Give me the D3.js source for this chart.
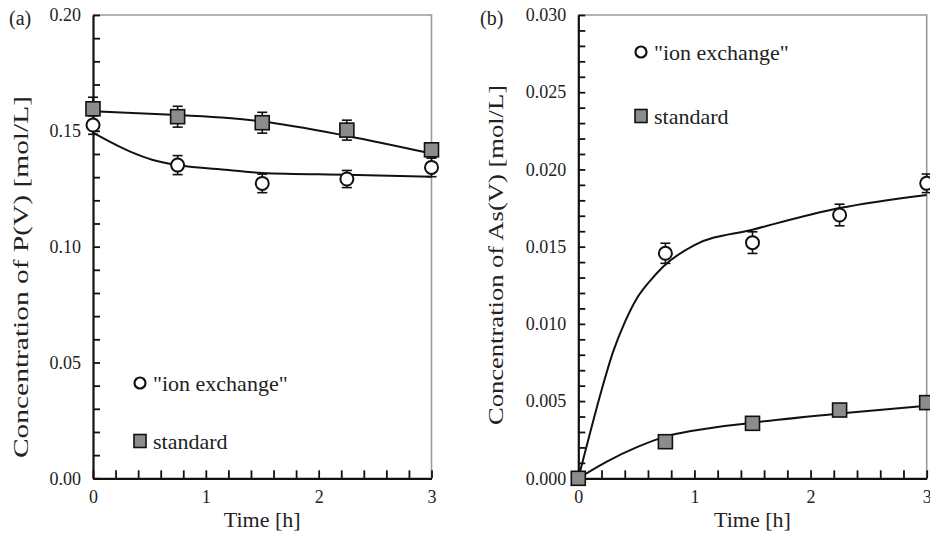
<!DOCTYPE html>
<html>
<head>
<meta charset="utf-8">
<script src="https://cdn.jsdelivr.net/npm/d3@7"></script>
<style>
  html, body { margin: 0; padding: 0; background: #fff; }
  svg { display: block; font-family: "Liberation Serif", "DejaVu Serif", serif; }
  svg text { font-family: "Liberation Serif", "DejaVu Serif", serif; }
</style>
</head>
<body>
<svg id="chart" width="930" height="535"></svg>
<script>
// Sampling times [h]
const times = [0, 0.75, 1.5, 2.25, 3];

// Panel (a): P(V) concentration [mol/L]
const pIon = [0.1525, 0.1352, 0.1273, 0.1292, 0.1342];
const pIonErr = [0.004, 0.0041, 0.004, 0.0037, 0.004];
const pStd = [0.1595, 0.1561, 0.1535, 0.1503, 0.1418];
const pStdErr = [0.005, 0.0045, 0.0045, 0.0043, 0.003];
// fitted model curves, panel (a)
const pIonFitT = [0, 0.33, 0.53, 0.75, 1.2, 1.5, 2.25, 3];
const pIonFit = [0.1492, 0.1410, 0.1374, 0.1352, 0.1331, 0.1318, 0.1310, 0.1302];
const pStdFitT = [0, 0.75, 1.2, 1.5, 2.25, 3];
const pStdFit = [0.1585, 0.1568, 0.1555, 0.1540, 0.1478, 0.1402];

// Panel (b): As(V) concentration [mol/L]
const asIon = [0, 0.01457, 0.01526, 0.01705, 0.0191];
const asIonErr = [0, 0.00065, 0.0007, 0.0007, 0.0006];
const asStd = [0, 0.00237, 0.00356, 0.00442, 0.0049];
const asStdErr = [0, 0.0002, 0.0002, 0.0002, 0.0002];
// fitted model curves, panel (b)
const asIonFitT = [0, 0.1, 0.2, 0.3, 0.4, 0.5, 0.62, 0.73, 1.0, 1.5, 2.25, 3];
const asIonFit = [0, 0.0029, 0.0057, 0.0082, 0.0101, 0.0116, 0.0128, 0.0137, 0.0151, 0.0161, 0.0175, 0.01835];
const asStdFitT = [0, 0.25, 0.5, 0.75, 1.0, 1.5, 2.25, 3];
const asStdFit = [0, 0.0011, 0.0020, 0.0027, 0.0031, 0.0036, 0.0042, 0.0047];

// Tick labels
const timeTickLabels = ["0", "1", "2", "3"];
const pTickLabels = ["0.00", "0.05", "0.10", "0.15", "0.20"];
const asTickLabels = ["0.000", "0.005", "0.010", "0.015", "0.020", "0.025", "0.030"];

// Legend entries
const legendNames = ['"ion exchange"', "standard"];

const svg = d3.select("#chart");
const markerGrey = "#8c8c8c";
const serif = "Liberation Serif, DejaVu Serif, serif";

function drawPanel(cfg) {
  const g = svg.append("g");
  const x = d3.scaleLinear().domain([0, 3]).range([cfg.x0, cfg.x1]);
  const y = d3.scaleLinear().domain([0, cfg.yMax]).range([cfg.yBot, cfg.yTop]);

  // frame: grey top and right edges
  g.append("path")
    .attr("d", `M${cfg.x0},${cfg.yTop}H${cfg.x1}V${cfg.yBot}`)
    .attr("fill", "none").attr("stroke", "#9a9a9a").attr("stroke-width", 1.6);

  // y axis with inward ticks
  const yMinor = d3.range(0, cfg.yMax + cfg.yStep / 2, cfg.yStep);
  const yAxis = d3.axisLeft(y)
    .tickValues(yMinor)
    .tickSize(-7).tickSizeOuter(0).tickPadding(12)
    .tickFormat((d, i) => (i % 5 === 0 ? cfg.yLabels[i / 5] : ""));
  const ya = g.append("g").attr("transform", `translate(${cfg.x0},0)`).call(yAxis);

  // x axis with inward ticks
  const xMinor = d3.range(0, 3.0001, 0.2);
  const xAxis = d3.axisBottom(x)
    .tickValues(xMinor)
    .tickSize(-8).tickSizeOuter(0).tickPadding(12)
    .tickFormat((d, i) => (i % 5 === 0 ? timeTickLabels[i / 5] : ""));
  const xa = g.append("g").attr("transform", `translate(0,${cfg.yBot})`).call(xAxis);

  [ya, xa].forEach(a => {
    a.attr("font-family", serif);
    a.select(".domain").attr("stroke", "#111").attr("stroke-width", 2.2);
    a.selectAll(".tick line").attr("stroke", "#111").attr("stroke-width", 1.8);
    a.selectAll(".tick text").attr("fill", "#222").style("font-size", "18px");
  });

  // axis titles
  g.append("text")
    .attr("x", (cfg.x0 + cfg.x1) / 2).attr("y", 527)
    .attr("text-anchor", "middle").attr("fill", "#222")
    .style("font-size", "22px").text("Time [h]");
  g.append("text")
    .attr("transform", `translate(${cfg.yTitleX},${cfg.yTitleY}) rotate(-90)`)
    .attr("text-anchor", "middle").attr("fill", "#222")
    .attr("textLength", cfg.yTitleLen).attr("lengthAdjust", "spacingAndGlyphs")
    .style("font-size", "22px").text(cfg.yTitle);

  // panel tag
  g.append("text").attr("x", cfg.tagX).attr("y", 25).attr("fill", "#222")
    .style("font-size", "20px").text(cfg.tag);

  // fitted curves
  const line = d3.line().x(d => x(d[0])).y(d => y(d[1])).curve(d3.curveMonotoneX);
  cfg.fits.forEach(f => {
    g.append("path").datum(d3.zip(f.t, f.v)).attr("d", line)
      .attr("fill", "none").attr("stroke", "#111").attr("stroke-width", 2);
  });

  // error bars
  function errorBars(vals, errs) {
    const eg = g.append("g").attr("stroke", "#111").attr("stroke-width", 1.6);
    times.forEach((t, i) => {
      if (!errs[i]) return;
      const cx = x(t), lo = y(vals[i] - errs[i]), hi = y(vals[i] + errs[i]);
      eg.append("line").attr("x1", cx).attr("x2", cx).attr("y1", lo).attr("y2", hi);
      eg.append("line").attr("x1", cx - 5).attr("x2", cx + 5).attr("y1", lo).attr("y2", lo);
      eg.append("line").attr("x1", cx - 5).attr("x2", cx + 5).attr("y1", hi).attr("y2", hi);
    });
  }
  errorBars(cfg.ion, cfg.ionErr);
  errorBars(cfg.std, cfg.stdErr);

  // markers
  g.append("g").selectAll("circle").data(d3.zip(times, cfg.ion)).join("circle")
    .attr("cx", d => x(d[0])).attr("cy", d => y(d[1])).attr("r", 6.5)
    .attr("fill", "#fff").attr("stroke", "#111").attr("stroke-width", 2);
  g.append("g").selectAll("rect").data(d3.zip(times, cfg.std)).join("rect")
    .attr("x", d => x(d[0]) - 7).attr("y", d => y(d[1]) - 7)
    .attr("width", 14).attr("height", 14)
    .attr("fill", markerGrey).attr("stroke", "#111").attr("stroke-width", 1.6);

  // legend
  const lg = g.append("g");
  lg.append("circle").attr("cx", cfg.legX).attr("cy", cfg.legY1).attr("r", 5.5)
    .attr("fill", "#fff").attr("stroke", "#111").attr("stroke-width", 2.2);
  lg.append("text").attr("x", cfg.legX + 13).attr("y", cfg.legY1 + 7.5)
    .attr("fill", "#222").style("font-size", "22px").text(legendNames[0]);
  lg.append("rect").attr("x", cfg.legX - 6).attr("y", cfg.legY2 - 6.5)
    .attr("width", 12).attr("height", 13)
    .attr("fill", markerGrey).attr("stroke", "#111").attr("stroke-width", 1.6);
  lg.append("text").attr("x", cfg.legX + 13).attr("y", cfg.legY2 + 7.5)
    .attr("fill", "#222").style("font-size", "22px").text(legendNames[1]);
}

drawPanel({
  tag: "(a)", tagX: 9,
  x0: 93, x1: 431.5, yTop: 15, yBot: 478.3,
  yMax: 0.20, yStep: 0.01, yLabels: pTickLabels,
  yTitle: "Concentration of P(V)  [mol/L]", yTitleX: 28, yTitleY: 277, yTitleLen: 362,
  ion: pIon, ionErr: pIonErr, std: pStd, stdErr: pStdErr,
  fits: [{ t: pIonFitT, v: pIonFit }, { t: pStdFitT, v: pStdFit }],
  legX: 140, legY1: 383, legY2: 441
});

drawPanel({
  tag: "(b)", tagX: 480,
  x0: 578.3, x1: 926.7, yTop: 15, yBot: 478.3,
  yMax: 0.030, yStep: 0.001, yLabels: asTickLabels,
  yTitle: "Concentration of As(V)  [mol/L]", yTitleX: 503, yTitleY: 255, yTitleLen: 340,
  ion: asIon, ionErr: asIonErr, std: asStd, stdErr: asStdErr,
  fits: [{ t: asIonFitT, v: asIonFit }, { t: asStdFitT, v: asStdFit }],
  legX: 641, legY1: 52, legY2: 116
});
</script>
</body>
</html>
